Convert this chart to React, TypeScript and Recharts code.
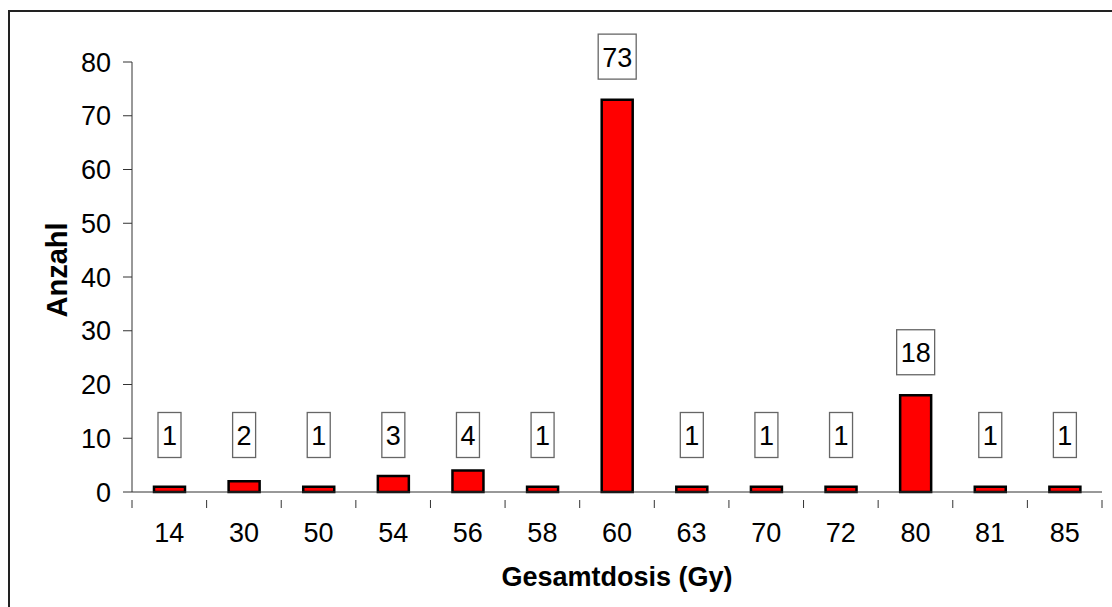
import React from "react";
import { BarChart, Bar, XAxis, YAxis, LabelList } from "recharts";

const categories = ["14", "30", "50", "54", "56", "58", "60", "63", "70", "72", "80", "81", "85"];
const counts = [1, 2, 1, 3, 4, 1, 73, 1, 1, 1, 18, 1, 1];
const yTicks = [0, 10, 20, 30, 40, 50, 60, 70, 80];

const data = categories.map((c, i) => ({ dose: c, count: counts[i] }));

const W = 1112;
const H = 607;
const LEFT = 132;
const RIGHT_MARGIN = 10;
const PLOT_W = W - LEFT - RIGHT_MARGIN;
const BAND = PLOT_W / categories.length;
const FONT = "'Liberation Sans', Arial, sans-serif";
const TICK_FS = 27;

const XTick = (props: any) => {
  const { x, y, payload, index } = props;
  const left = x - BAND / 2;
  return (
    <g>
      <line x1={left} y1={y} x2={left} y2={y + 8} stroke="#333" strokeWidth={1} />
      {index === categories.length - 1 && (
        <line x1={left + BAND} y1={y} x2={left + BAND} y2={y + 8} stroke="#333" strokeWidth={1} />
      )}
      <text x={x} y={y + 33} textAnchor="middle" dominantBaseline="central" fontSize={TICK_FS} fontFamily={FONT} fill="#000">
        {payload.value}
      </text>
    </g>
  );
};

const BoxLabel = (props: any) => {
  const { x, y, width, height, value } = props;
  const s = String(value);
  const bw = 8 + 15 * s.length;
  const bh = 45;
  const cx = x + width / 2;
  const zeroY = y + height;
  const cy = height < 25 ? zeroY - 57 : y - 43;
  return (
    <g>
      <rect x={cx - bw / 2} y={cy - bh / 2} width={bw} height={bh} fill="#fff" stroke="#666" strokeWidth={1.3} />
      <text x={cx} y={cy + 1} textAnchor="middle" dominantBaseline="central" fontSize={TICK_FS} fontFamily={FONT} fill="#000">
        {s}
      </text>
    </g>
  );
};

const XTitle = (props: any) => {
  const { viewBox } = props;
  const cx = viewBox.x + viewBox.width / 2;
  return (
    <text x={cx} y={viewBox.y + 85} textAnchor="middle" dominantBaseline="central" fontSize={27} fontWeight="bold" fontFamily={FONT} fill="#000">
      Gesamtdosis (Gy)
    </text>
  );
};

const YTitle = (props: any) => {
  const { viewBox } = props;
  const cy = viewBox.y + viewBox.height / 2 - 7;
  const cx = 57;
  return (
    <text x={cx} y={cy} transform={`rotate(-90 ${cx} ${cy})`} textAnchor="middle" dominantBaseline="central" fontSize={29} fontWeight="bold" fontFamily={FONT} fill="#000">
      Anzahl
    </text>
  );
};

export default function App() {
  return (
    <div style={{ position: "absolute", left: 0, top: 0, width: W, height: H, background: "#fff", overflow: "hidden" }}>
      <div
        style={{
          position: "absolute",
          left: 8,
          top: 10,
          width: W - 8,
          height: H - 10,
          borderTop: "2px solid #222",
          borderLeft: "2px solid #222",
          boxSizing: "border-box",
        }}
      />
      <div style={{ position: "absolute", left: 0, top: 0 }}>
        <BarChart width={W} height={H} data={data} margin={{ top: 62, right: RIGHT_MARGIN, bottom: 55, left: 0 }}>
          <XAxis
            dataKey="dose"
            height={60}
            tickLine={false}
            axisLine={{ stroke: "#333", strokeWidth: 1 }}
            tick={<XTick />}
            interval={0}
            label={<XTitle />}
          />
          <YAxis
            width={LEFT}
            domain={[0, 80]}
            ticks={yTicks}
            interval={0}
            tickSize={9}
            tickMargin={12}
            axisLine={{ stroke: "#333", strokeWidth: 1 }}
            tickLine={{ stroke: "#333", strokeWidth: 1 }}
            tick={{ fontSize: TICK_FS, fontFamily: FONT, fill: "#000" }}
            label={<YTitle />}
          />
          <Bar dataKey="count" fill="#ff0000" stroke="#000" strokeWidth={2.5} barSize={31} isAnimationActive={false}>
            <LabelList dataKey="count" content={<BoxLabel />} />
          </Bar>
        </BarChart>
      </div>
    </div>
  );
}
